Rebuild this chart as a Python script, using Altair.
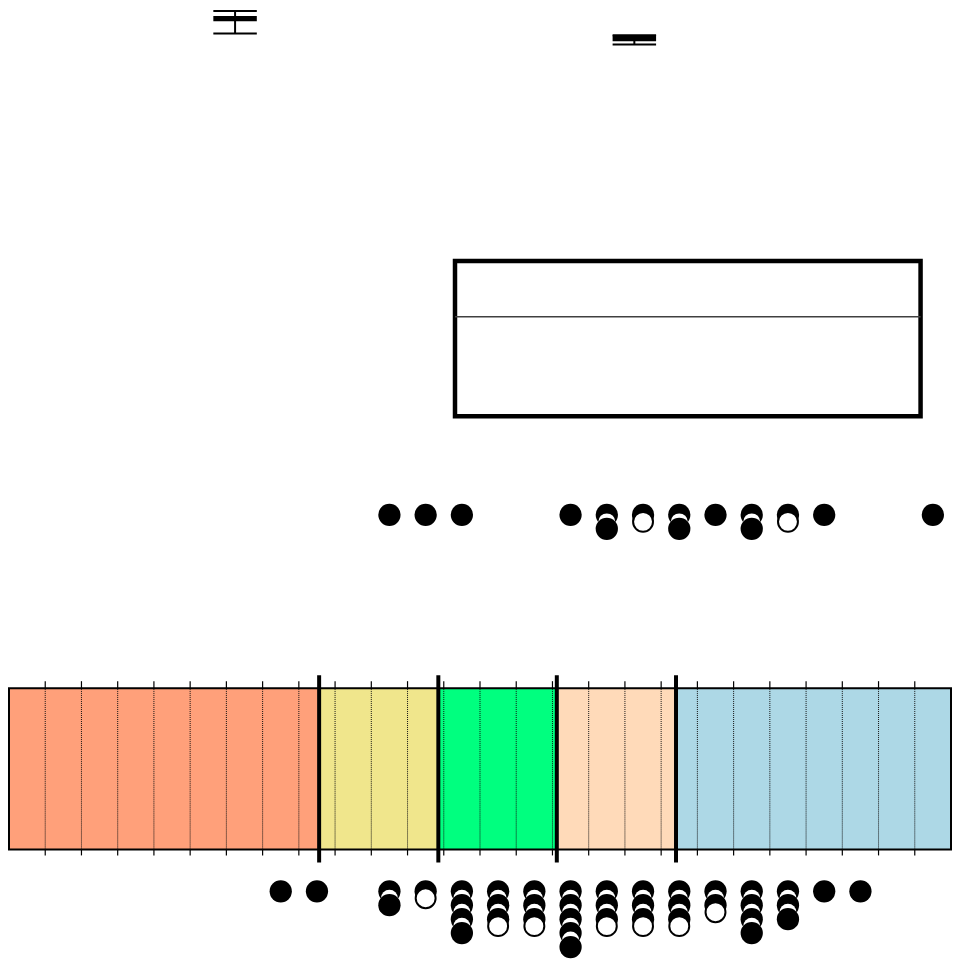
import altair as alt
import pandas as pd

# ---------------- data (x values in tick units) ----------------
tick_values = list(range(1, 26))

zone_starts = [0.0, 8.56, 11.85, 15.12, 18.41]
zone_ends = [8.56, 11.85, 15.12, 18.41, 26.0]
zone_colors = ["#FFA07A", "#F0E68C", "#00FF7F", "#FFDAB9", "#ADD8E6"]
zone_bounds = [8.56, 11.85, 15.12, 18.41]

# two error-bar glyphs at the top
eb_center = [6.24, 17.26]
eb_left = [5.64, 16.66]
eb_right = [6.84, 17.86]
eb_high = [39.0, 14.7]
eb_q3 = [34.0, 14.7]
eb_q1 = [28.7, 8.7]
eb_low = [16.3, 5.3]

# the big open box
box_left = [12.31]
box_right = [25.16]
box_q1 = [10.0]
box_q3 = [40.0]
box_median = [29.23]

# dot stacks: F = filled dot, H = hollow dot (top to bottom)
mid_x = [10.5, 11.5, 12.5, 15.5, 16.5, 17.5, 18.5, 19.5, 20.5, 21.5, 22.5, 25.5]
mid_stacks = ["F", "F", "F", "F", "FF", "FH", "FF", "F", "FF", "FH", "F", "F"]

bot_x = [7.5, 8.5, 10.5, 11.5, 12.5, 13.5, 14.5, 15.5, 16.5, 17.5, 18.5,
         19.5, 20.5, 21.5, 22.5, 23.5]
bot_stacks = ["F", "F", "FF", "FH", "FFFF", "FFFH", "FFFH", "FFFFF", "FFFH",
              "FFFH", "FFFH", "FFH", "FFFF", "FFF", "F", "F"]

# ---------------- chart ----------------
W = 946
xs = alt.Scale(domain=[0, 26], nice=False, zero=False)


def X(field):
    return alt.X(f"{field}:Q", scale=xs, axis=None)


def spacer(h):
    return (
        alt.Chart(pd.DataFrame({"s": [13]}))
        .mark_point(opacity=0, size=1)
        .encode(x=X("s"))
        .properties(width=W, height=h)
    )


# panel A: error bars
eb = pd.DataFrame(dict(center=eb_center, left=eb_left, right=eb_right,
                       high=eb_high, q3=eb_q3, q1=eb_q1, low=eb_low))
ya = alt.Scale(domain=[0, 40], nice=False, zero=False)
stem = alt.Chart(eb).mark_rule(color="black", strokeWidth=2).encode(
    x=X("center"), y=alt.Y("low:Q", scale=ya, axis=None), y2="high:Q")
cap_hi = alt.Chart(eb).mark_rule(color="black", strokeWidth=2).encode(
    x=X("left"), x2="right:Q", y=alt.Y("high:Q", scale=ya, axis=None))
cap_lo = alt.Chart(eb).mark_rule(color="black", strokeWidth=2).encode(
    x=X("left"), x2="right:Q", y=alt.Y("low:Q", scale=ya, axis=None))
eb_box = alt.Chart(eb).mark_rect(color="black").encode(
    x=X("left"), x2="right:Q", y=alt.Y("q1:Q", scale=ya, axis=None), y2="q3:Q")
panel_a = alt.layer(stem, cap_hi, cap_lo, eb_box).properties(width=W, height=40)

# panel B: open box with median line
bx = pd.DataFrame(dict(left=box_left, right=box_right, q1=box_q1, q3=box_q3,
                       median=box_median))
yb = alt.Scale(domain=[10, 40], nice=False, zero=False)
big_box = alt.Chart(bx).mark_rect(fill="white", stroke="black", strokeWidth=4.5).encode(
    x=X("left"), x2="right:Q", y=alt.Y("q1:Q", scale=yb, axis=None), y2="q3:Q")
med = alt.Chart(bx).mark_rule(color="#404040", strokeWidth=1.5).encode(
    x=X("left"), x2="right:Q", y=alt.Y("median:Q", scale=yb, axis=None))
panel_b = alt.layer(big_box, med).properties(width=W, height=156)

# panel D: coloured band
zones = pd.DataFrame(dict(start=zone_starts, end=zone_ends, color=zone_colors))
ticks = pd.DataFrame(dict(t=tick_values))
bounds = pd.DataFrame(dict(b=zone_bounds))
yd = alt.Scale(domain=[0, 1], nice=False, zero=False)

zone_rect = alt.Chart(zones).mark_rect(stroke="black", strokeWidth=2).encode(
    x=X("start"), x2="end:Q",
    y=alt.YDatum(0, scale=yd, axis=None), y2=alt.Y2Datum(1),
    fill=alt.Fill("color:N", scale=None))
grid = alt.Chart(ticks).mark_rule(color="#111", strokeWidth=1, strokeDash=[1, 1]).encode(
    x=X("t"), y=alt.YDatum(0, scale=yd, axis=None), y2=alt.Y2Datum(1))
top_ticks = alt.Chart(ticks).mark_rule(color="black", strokeWidth=1.2, y2Offset=-7).encode(
    x=X("t"), y=alt.YDatum(1, scale=yd, axis=None), y2=alt.Y2Datum(1))
bot_ticks = alt.Chart(ticks).mark_rule(color="black", strokeWidth=1.2, y2Offset=6).encode(
    x=X("t"), y=alt.YDatum(0, scale=yd, axis=None), y2=alt.Y2Datum(0))
bound_rules = alt.Chart(bounds).mark_rule(color="black", strokeWidth=4, yOffset=13, y2Offset=-13).encode(
    x=X("b"), y=alt.YDatum(0, scale=yd, axis=None), y2=alt.Y2Datum(1))
panel_d = alt.layer(zone_rect, grid, top_ticks, bot_ticks, bound_rules).properties(
    width=W, height=162)


def dot_panel(xvals, stacks, step):
    rows = []
    for xv, st in zip(xvals, stacks):
        for k, kind in enumerate(st):
            rows.append(dict(x=xv, level=k, kind=kind))
    df = pd.DataFrame(rows)
    maxlevel = int(df["level"].max())
    ys = alt.Scale(domain=[0, maxlevel], reverse=True, nice=False, zero=False)
    layers = []
    for k in range(maxlevel + 1):
        base = alt.Chart(df).transform_filter(alt.datum.level == k)
        enc = dict(x=X("x"), y=alt.Y("level:Q", scale=ys, axis=None))
        filled = base.transform_filter(alt.datum.kind == "F")
        hollow = base.transform_filter(alt.datum.kind == "H")
        layers.append(filled.mark_circle(size=289, color="white", opacity=1).encode(**enc))
        layers.append(filled.mark_circle(size=500, color="black", opacity=1, yOffset=7).encode(**enc))
        layers.append(hollow.mark_circle(size=400, fill="white", stroke="black",
                                         strokeWidth=2, opacity=1).encode(**enc))
    return alt.layer(*layers).properties(width=W, height=step * maxlevel)


panel_c = dot_panel(mid_x, mid_stacks, 14)
panel_e = dot_panel(bot_x, bot_stacks, 14)

chart = alt.vconcat(
    panel_a,
    spacer(212),
    panel_b,
    spacer(92),
    panel_c,
    spacer(167),
    panel_d,
    spacer(35),
    panel_e,
    spacing=0,
    bounds="flush",
).configure_view(stroke=None).properties(padding=0, background="white")

chart.save("out.html", embed_options={"renderer": "svg", "actions": False})
